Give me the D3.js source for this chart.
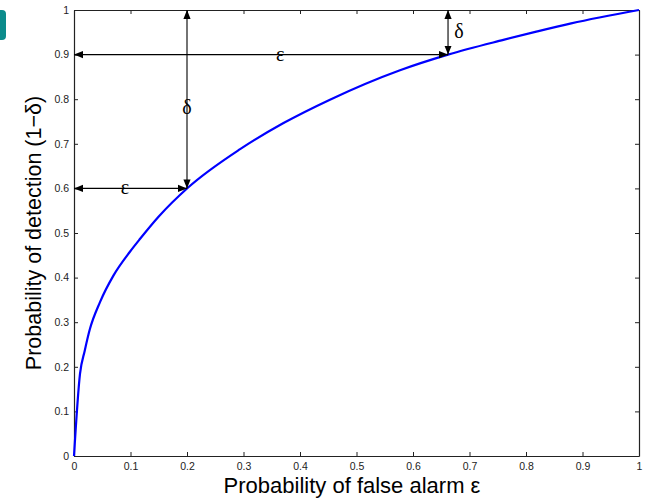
<!DOCTYPE html>
<html>
<head>
<meta charset="UTF-8">
<script src="https://d3js.org/d3.v7.min.js"></script>
<style>
body { margin: 0; background: white; }
svg { font-family: Arial, 'Liberation Sans', sans-serif; }
</style>
</head>
<body>
<script>
// ROC curve points: [false alarm, detection]
var rocX = [0, 0.0106, 0.019, 0.028, 0.046, 0.07, 0.099, 0.117, 0.15, 0.202, 0.294, 0.37, 0.453, 0.577, 0.662, 0.76, 0.82, 0.88, 1];
var rocY = [0, 0.184, 0.236, 0.284, 0.345, 0.405, 0.458, 0.487, 0.537, 0.602, 0.688, 0.746, 0.799, 0.865, 0.9, 0.933, 0.952, 0.97, 1];
var ticks = [0, 0.1, 0.2, 0.3, 0.4, 0.5, 0.6, 0.7, 0.8, 0.9, 1];
var tickLabels = ["0", "0.1", "0.2", "0.3", "0.4", "0.5", "0.6", "0.7", "0.8", "0.9", "1"];

// double-headed arrows: from (x1,y1) to (x2,y2), with label
var arrows = [
  {x1: 0, y1: 0.9, x2: 0.662, y2: 0.9, label: "\u03b5", lx: 0.365, ly: 0.9, dx: 0, dy: 6},
  {x1: 0.2, y1: 0.6, x2: 0.2, y2: 1, label: "\u03b4", lx: 0.2, ly: 0.78, dx: 0, dy: 6},
  {x1: 0, y1: 0.6, x2: 0.2, y2: 0.6, label: "\u03b5", lx: 0.09, ly: 0.6, dx: 0, dy: 6},
  {x1: 0.662, y1: 0.9, x2: 0.662, y2: 1, label: "\u03b4", lx: 0.662, ly: 0.95, dx: 11, dy: 6}
];

var W = 645, H = 498;
var m = {left: 74, right: 6, top: 10, bottom: 42};

var svg = d3.select("body").append("svg")
    .attr("width", W)
    .attr("height", H);

var defs = svg.append("defs");
defs.append("marker")
    .attr("id", "head")
    .attr("viewBox", "0 0 10 10")
    .attr("refX", 10).attr("refY", 5)
    .attr("markerWidth", 9).attr("markerHeight", 9)
    .attr("markerUnits", "userSpaceOnUse")
    .attr("orient", "auto-start-reverse")
  .append("path")
    .attr("d", "M0,1 L10,5 L0,9 Z")
    .attr("fill", "black");

// teal corner tab
svg.append("path")
    .attr("d", "M0,10 L2,10 Q6,10 6,14 L6,36 Q6,40 2,40 L0,40 Z")
    .attr("fill", "#0b8b8b");

var x = d3.scaleLinear().domain([0, 1]).range([m.left, W - m.right]);
var y = d3.scaleLinear().domain([0, 1]).range([H - m.bottom, m.top]);

var g = svg.append("g");

function fmt(d) { return tickLabels[ticks.indexOf(d)]; }

g.append("g")
    .attr("transform", "translate(0," + y(0) + ")")
    .call(d3.axisBottom(x).tickValues(ticks).tickFormat(fmt).tickSizeInner(-4).tickSizeOuter(0).tickPadding(7));
g.append("g")
    .attr("transform", "translate(0," + y(1) + ")")
    .call(d3.axisTop(x).tickValues(ticks).tickFormat("").tickSizeInner(-4).tickSizeOuter(0));
g.append("g")
    .attr("transform", "translate(" + x(0) + ",0)")
    .call(d3.axisLeft(y).tickValues(ticks).tickFormat(fmt).tickSizeInner(-4).tickSizeOuter(0).tickPadding(5));
g.append("g")
    .attr("transform", "translate(" + x(1) + ",0)")
    .call(d3.axisRight(y).tickValues(ticks).tickFormat("").tickSizeInner(-4).tickSizeOuter(0));

g.selectAll(".domain").attr("stroke", "#222").attr("stroke-width", 1.2);
g.selectAll(".tick line").attr("stroke", "#222");
g.selectAll(".tick text").attr("font-size", 10.5).attr("fill", "#222")
    .attr("font-family", "Arial, 'Liberation Sans', sans-serif");

// ROC curve
var pts = rocX.map(function(d, i) { return [d, rocY[i]]; });
svg.append("path")
    .datum(pts)
    .attr("fill", "none")
    .attr("stroke", "#0000ff")
    .attr("stroke-width", 2.2)
    .attr("d", d3.line().x(function(d) { return x(d[0]); }).y(function(d) { return y(d[1]); }).curve(d3.curveMonotoneX));

// annotation arrows
var ann = svg.append("g");
ann.selectAll("line").data(arrows).enter().append("line")
    .attr("x1", function(d) { return x(d.x1); })
    .attr("y1", function(d) { return y(d.y1); })
    .attr("x2", function(d) { return x(d.x2); })
    .attr("y2", function(d) { return y(d.y2); })
    .attr("stroke", "black")
    .attr("stroke-width", 1.1)
    .attr("marker-start", "url(#head)")
    .attr("marker-end", "url(#head)");

ann.selectAll("text").data(arrows).enter().append("text")
    .attr("x", function(d) { return x(d.lx) + d.dx; })
    .attr("y", function(d) { return y(d.ly) + d.dy; })
    .attr("text-anchor", "middle")
    .attr("font-family", "'Liberation Serif', 'DejaVu Serif', serif")
    .attr("font-size", 20)
    .text(function(d) { return d.label; });

// axis labels
svg.append("text")
    .attr("x", 352)
    .attr("y", 493)
    .attr("text-anchor", "middle")
    .attr("font-size", 22)
    .text("Probability of false alarm  \u03b5");

svg.append("text")
    .attr("transform", "translate(41," + (y(0.5)) + ") rotate(-90)")
    .attr("text-anchor", "middle")
    .attr("font-size", 21.5)
    .text("Probability of detection (1\u2212\u03b4)");
</script>
</body>
</html>
